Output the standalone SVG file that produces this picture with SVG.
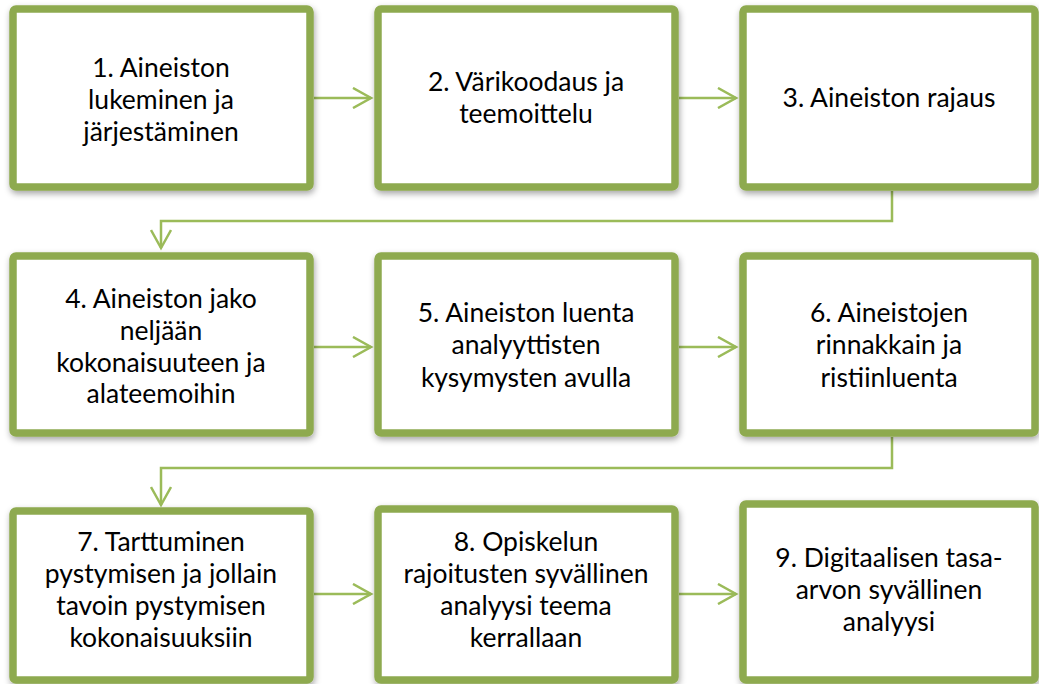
<svg xmlns="http://www.w3.org/2000/svg" width="1039" height="684" viewBox="0 0 1039 684">
<style>
.box{fill:#ffffff;stroke:#8eaa50;stroke-width:7.5;filter:url(#sh)}
.t{font-family:"Lato","Liberation Sans",sans-serif;font-size:26.5px;fill:#000;text-anchor:middle}
.c{fill:none;stroke:#9bbb59;stroke-width:2.5}
</style>
<defs>
<filter id="sh" x="-10%" y="-10%" width="120%" height="130%">
<feDropShadow dx="1" dy="3" stdDeviation="3" flood-color="#000" flood-opacity="0.35"/>
</filter>
<marker id="ah" viewBox="0 0 22 22" refX="19" refY="11" markerWidth="22" markerHeight="22" markerUnits="userSpaceOnUse" orient="auto">
<path d="M1,1 L19,11 L1,21" fill="none" stroke="#9bbb59" stroke-width="2.5"/>
</marker>
</defs>
<g id="connectors">
<path class="c" d="M314,98 H371" marker-end="url(#ah)"/>
<path class="c" d="M679,98 H736" marker-end="url(#ah)"/>
<path class="c" d="M892,191 V221 H161 V248" marker-end="url(#ah)"/>
<path class="c" d="M314,347 H371" marker-end="url(#ah)"/>
<path class="c" d="M679,347 H736" marker-end="url(#ah)"/>
<path class="c" d="M892,437 V468 H161 V505" marker-end="url(#ah)"/>
<path class="c" d="M314,594 H371" marker-end="url(#ah)"/>
<path class="c" d="M679,594 H736" marker-end="url(#ah)"/>
</g>
<g id="n1"><rect class="box" x="13" y="9" width="297" height="178" rx="3"/>
<text class="t" x="161" y="77">1. Aineiston</text><text class="t" x="161" y="109">lukeminen ja</text><text class="t" x="161" y="141">järjestäminen</text></g>
<g id="n2"><rect class="box" x="378" y="9" width="297" height="178" rx="3"/>
<text class="t" x="526" y="91">2. Värikoodaus ja</text><text class="t" x="526" y="123">teemoittelu</text></g>
<g id="n3"><rect class="box" x="743" y="9" width="292" height="178" rx="3"/>
<text class="t" x="889" y="107">3. Aineiston rajaus</text></g>
<g id="n4"><rect class="box" x="13" y="256" width="297" height="177" rx="3"/>
<text class="t" x="161" y="308">4. Aineiston jako</text><text class="t" x="161" y="340">neljään</text><text class="t" x="161" y="372">kokonaisuuteen ja</text><text class="t" x="161" y="403">alateemoihin</text></g>
<g id="n5"><rect class="box" x="378" y="256" width="297" height="177" rx="3"/>
<text class="t" x="526" y="322">5. Aineiston luenta</text><text class="t" x="526" y="354">analyyttisten</text><text class="t" x="526" y="387">kysymysten avulla</text></g>
<g id="n6"><rect class="box" x="743" y="256" width="292" height="177" rx="3"/>
<text class="t" x="889" y="322">6. Aineistojen</text><text class="t" x="889" y="354">rinnakkain ja</text><text class="t" x="889" y="387">ristiinluenta</text></g>
<g id="n7"><rect class="box" x="13" y="511" width="297" height="169" rx="3"/>
<text class="t" x="161" y="551">7. Tarttuminen</text><text class="t" x="161" y="583">pystymisen ja jollain</text><text class="t" x="161" y="615">tavoin pystymisen</text><text class="t" x="161" y="647">kokonaisuuksiin</text></g>
<g id="n8"><rect class="box" x="378" y="509" width="297" height="171" rx="3"/>
<text class="t" x="526" y="551">8. Opiskelun</text><text class="t" x="526" y="583">rajoitusten syvällinen</text><text class="t" x="526" y="615">analyysi teema</text><text class="t" x="526" y="647">kerrallaan</text></g>
<g id="n9"><rect class="box" x="743" y="504" width="292" height="176" rx="3"/>
<text class="t" x="889" y="567">9. Digitaalisen tasa-</text><text class="t" x="889" y="599">arvon syvällinen</text><text class="t" x="889" y="631">analyysi</text></g>
</svg>
